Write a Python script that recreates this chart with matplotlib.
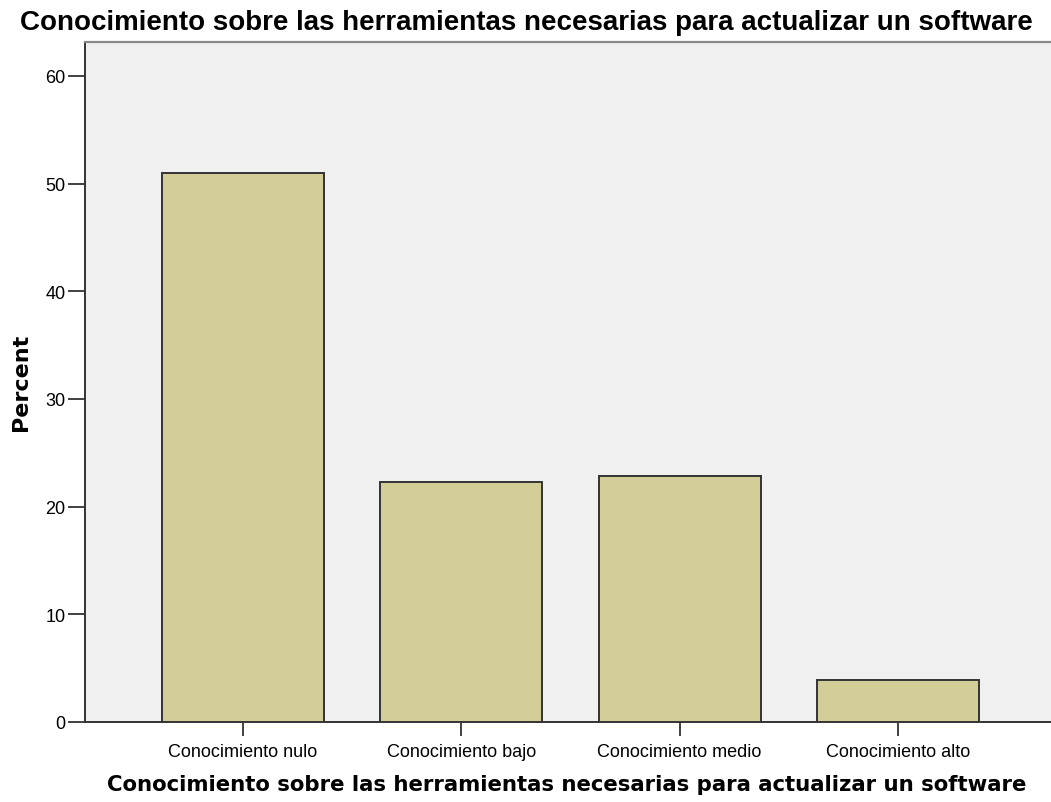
import matplotlib
matplotlib.use("Agg")
import matplotlib.pyplot as plt

categories = ["Conocimiento nulo", "Conocimiento bajo", "Conocimiento medio", "Conocimiento alto"]
percent = [51.0, 22.3, 22.8, 3.9]
yticks = [0, 10, 20, 30, 40, 50, 60]
title = "Conocimiento sobre las herramientas necesarias para actualizar un software"

fig = plt.figure(figsize=(10.51, 8.03), dpi=100)
ax = fig.add_axes([85/1051, 1 - 723/803, 1 - 85/1051, (723 - 43)/803])
ax.set_facecolor("#f0f0f0")

x = list(range(len(categories)))
ax.bar(x, percent, width=0.743, color="#d3ce97", edgecolor="#333333", linewidth=1.4, zorder=3)

ax.set_xlim(-0.7225, 3.70)
ax.set_ylim(0, 63.15)
ax.set_yticks(yticks)
ax.set_yticklabels([str(t) for t in yticks], family="Liberation Sans", fontsize=13)
ax.set_xticks(x)
ax.set_xticklabels(categories, family="Liberation Sans", fontsize=13)
ax.tick_params(axis="y", direction="out", length=12, width=1.3, color="#333333", pad=2)
ax.tick_params(axis="x", direction="out", length=10, width=1.3, color="#333333", pad=5)

for s in ["left", "bottom"]:
    ax.spines[s].set_color("#333333")
    ax.spines[s].set_linewidth(1.4)
ax.spines["top"].set_color("#888888")
ax.spines["top"].set_linewidth(1.6)
ax.spines["right"].set_visible(False)

fig.text(21/1051, 1 - 382/803, "Percent", rotation=90, ha="center", va="center",
         family="DejaVu Sans", fontweight="bold", fontsize=16)
fig.text(526/1051, 1 - 23/803, title, ha="center", va="center",
         family="Liberation Sans", fontweight="bold", fontsize=20)
fig.text(567/1051, 1 - 785/803, title, ha="center", va="center",
         family="DejaVu Sans", fontweight="bold", fontsize=15.3)

fig.savefig("out.png", dpi=100)
